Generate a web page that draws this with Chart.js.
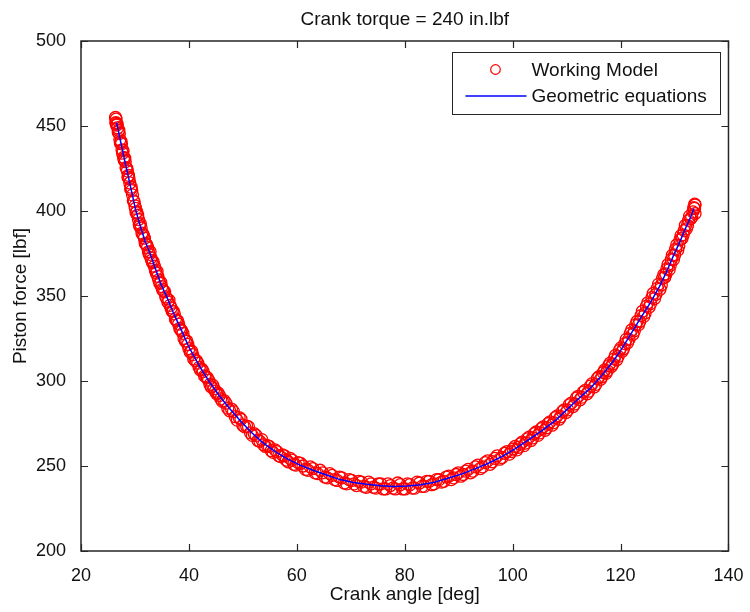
<!DOCTYPE html>
<html>
<head>
<meta charset="utf-8">
<script src="https://cdn.jsdelivr.net/npm/chart.js@4/dist/chart.umd.min.js"></script>
<style>
html,body{margin:0;padding:0;background:#fff;}
#wrap{width:750px;height:612px;}
</style>
</head>
<body>
<div id="wrap"><canvas id="c" width="750" height="612"></canvas></div>
<script>
// ---- text ----
const titleText = 'Crank torque = 240 in.lbf';
const xAxisLabel = 'Crank angle [deg]';
const yAxisLabel = 'Piston force [lbf]';
const seriesNames = ['Working Model', 'Geometric equations'];

// ---- ticks ----
const xTickValues = [20, 40, 60, 80, 100, 120, 140];
const yTickValues = [200, 250, 300, 350, 400, 450, 500];

// ---- series 1: Working Model (circles) ----
const wmAngle = [
  26.4, 26.5, 26.6, 26.8, 27.0, 27.2, 27.4, 27.6, 27.8, 28.0, 28.2, 28.5, 28.7, 28.9, 29.2, 29.4, 29.7, 30.0, 30.2, 30.5,
  30.8, 31.0, 31.3, 31.6, 31.9, 32.2, 32.5, 32.8, 33.1, 33.4, 33.8, 34.1, 34.4, 34.8, 35.1, 35.5, 35.9,
  36.3, 36.7, 37.1, 37.5, 37.9, 38.3, 38.7, 39.1, 39.6, 40.0, 40.5, 40.9, 41.4, 41.9, 42.4, 42.9, 43.4, 43.9, 44.4, 44.9, 45.4, 45.9,
  46.5, 47.2, 47.9, 48.6, 49.3, 50.0, 50.7, 51.4, 52.1, 52.8, 53.5, 54.2, 54.9, 55.6, 56.3, 57.0, 57.7, 58.4, 59.1, 59.8,
  60.7, 61.6, 62.5, 63.4, 64.3, 65.2, 66.1, 67.0, 67.9, 68.8, 69.7, 70.6, 71.5, 72.4, 73.3, 74.2, 75.1, 76.0, 76.9, 77.8,
  78.7, 79.6, 80.5, 81.4, 82.3, 83.2, 84.1, 85.0, 85.9, 86.8, 87.7, 88.6, 89.5, 90.4, 91.3, 92.2, 93.1, 94.0, 94.9, 95.8,
  96.7, 97.6, 98.5, 99.4,
  100.1, 100.8, 101.4, 102.1, 102.7, 103.4, 104.0, 104.7, 105.3, 106.0, 106.6, 107.3, 107.9, 108.6, 109.2, 109.9, 110.5,
  111.2, 111.8, 112.5, 113.1, 113.8, 114.4, 115.1, 115.7,
  116.3, 116.8, 117.3, 117.8, 118.3, 118.8, 119.3, 119.8, 120.3, 120.8, 121.3, 121.8, 122.3, 122.8, 123.3, 123.8, 124.3,
  124.8, 125.3, 125.8, 126.3, 126.8, 127.3, 127.8, 128.2, 128.6, 129.0, 129.4, 129.8, 130.2, 130.6, 131.0, 131.4, 131.8,
  132.2, 132.6, 133.0, 133.4, 133.7, 133.8, 133.8,
  26.45, 26.55, 26.7, 26.9, 27.1, 27.3, 27.5, 27.7, 27.9, 28.1, 28.35, 28.6, 28.8, 29.05, 29.3, 29.55, 29.85, 30.1, 30.35,
  30.65, 30.9, 31.15, 31.45, 31.75, 32.05, 32.35, 32.65, 32.95, 33.25, 33.6, 33.95, 34.25, 34.6, 34.95, 35.3, 35.7,
  36.1, 36.5, 36.9, 37.3, 37.7, 38.1, 38.5, 38.9, 39.35, 39.8, 40.25, 40.7, 41.15, 41.65, 42.15, 42.65, 43.15, 43.65,
  44.15, 44.65, 45.15, 45.65, 46.2,
  46.85, 47.55, 48.25, 48.95, 49.65, 50.35, 51.05, 51.75, 52.45, 53.15, 53.85, 54.55, 55.25, 55.95, 56.65, 57.35,
  58.05, 58.75, 59.45, 60.25,
  61.15, 62.05, 62.95, 63.85, 64.75, 65.65, 66.55, 67.45, 68.35, 69.25, 70.15, 71.05, 71.95, 72.85, 73.75, 74.65,
  75.55, 76.45, 77.35, 78.25, 79.15, 80.05, 80.95, 81.85, 82.75, 83.65, 84.55, 85.45, 86.35, 87.25, 88.15, 89.05,
  89.95, 90.85, 91.75, 92.65, 93.55, 94.45, 95.35, 96.25, 97.15, 98.05, 98.95, 99.75,
  100.45, 101.1, 101.75, 102.4, 103.05, 103.7, 104.35, 105.0, 105.65, 106.3, 106.95, 107.6, 108.25, 108.9, 109.55,
  110.2, 110.85, 111.5, 112.15, 112.8, 113.45, 114.1, 114.75, 115.4, 116.0,
  116.55, 117.05, 117.55, 118.05, 118.55, 119.05, 119.55, 120.05, 120.55, 121.05, 121.55, 122.05, 122.55, 123.05,
  123.55, 124.05, 124.55, 125.05, 125.55, 126.05, 126.55, 127.05, 127.55, 128.0, 128.4, 128.8, 129.2, 129.6, 130.0,
  130.4, 130.8, 131.2, 131.6, 132.0, 132.4, 132.8, 133.2, 133.55, 133.75
];
const wmForce = [
  455, 454, 450.5, 449, 447.5, 442, 441, 436, 435.5, 430, 429, 425, 420, 419, 413, 412, 406, 403, 399, 397.5,
  392, 392.5, 387, 385.5, 381, 380, 376, 376, 371, 370, 365, 364.5, 359.5, 358, 354, 352.5, 348.5,
  347.5, 343, 341, 336.5, 335.5, 331, 329.5, 325, 323.5, 319, 317.5, 313, 312, 308, 307, 303, 302, 298, 297.5, 294, 293, 289.5,
  288.5, 284, 283.5, 279, 278.5, 274, 273.5, 269.5, 269, 265, 265.5, 261.5, 261.5, 258, 258.5, 255.5, 256, 252.5, 253.5, 250.5,
  251.5, 248, 249.5, 246, 247.5, 243.5, 245.5, 242, 243.5, 240, 242, 239.5, 241, 238, 240.5, 237.5, 239.5, 236.5, 239.5, 237,
  240, 236.5, 239.5, 237, 240.5, 238, 241, 239, 242, 240.5, 243.5, 242, 245, 244, 247, 246, 249.5, 248.5, 252, 251,
  254.5, 254, 257.5, 257,
  260, 259.5, 263, 262, 266, 265, 269, 268, 272, 271, 275, 274, 278.5, 277.5, 282, 281.5, 286,
  285, 290, 289, 293.5, 292.5, 297, 296.5, 301.5,
  301, 305, 304.5, 309, 308.5, 313, 312.5, 318, 317.5, 322, 322.5, 328, 327.5, 333, 333, 338.5, 338,
  344, 343.5, 349, 348.5, 354.5, 354, 360.5, 361, 366, 365.5, 371.5, 371.5, 377.5, 377, 383, 384, 388.5,
  389.5, 394.5, 395.5, 399.5, 401.5, 403.5, 398.5,
  452, 451.5, 451, 446.5, 445.5, 440, 439.5, 434, 431.5, 431, 425.5, 423.5, 421, 416.5, 414, 409.5, 405.5, 401.5, 399.5,
  395, 391, 390, 386.5, 384, 380.5, 378.5, 374.5, 372.5, 369.5, 367.5, 363.5, 361.5, 357.5, 355.5, 353, 349.5,
  346.5, 344.5, 341, 339.5, 335.5, 333.5, 330, 328, 323.5, 321.5, 317, 315.5, 312, 310.5, 306.5, 305.5, 302.5, 300.5,
  296.5, 295.5, 292.5, 291.5, 288,
  287, 282.5, 282, 277, 277.5, 273, 273, 268, 268, 264.5, 262.5, 262, 259, 259.5, 256, 256.5,
  253.5, 254.5, 251, 252,
  250, 247.5, 248.5, 245.5, 246, 243, 244.5, 241.5, 243, 239.5, 241.5, 238.5, 240.5, 237.5, 239.5, 237,
  239.5, 236.5, 238.5, 236.5, 239, 236.5, 239, 237, 240, 238, 241, 239.5, 242, 241, 244, 243,
  246, 245, 248, 247, 250.5, 249.5, 253, 252.5, 256, 255, 258.5, 258.5,
  261.5, 261, 264, 263.5, 267, 266.5, 270, 269.5, 273, 272.5, 276, 275.5, 279.5, 279, 283,
  283, 287, 286.5, 291, 290.5, 294.5, 294, 298.5, 298, 302.5,
  302.5, 306.5, 306, 310.5, 310, 315, 314.5, 319.5, 319, 324.5, 324.5, 330, 329.5, 335,
  335, 341, 340, 346, 345.5, 351.5, 351, 357, 356.5, 362.5, 363, 368.5, 368, 374, 374,
  380, 379.5, 385.5, 386, 391.5, 391.5, 397, 396.5, 402, 404
];

// ---- series 2: Geometric equations (line) ----
const geoAngle = [
  26.6, 27.2, 27.8, 28.5, 29.2, 30.1, 31.0, 31.9, 32.8, 33.8, 34.8, 35.9, 37.0, 38.3, 40.0, 42.0, 44.0, 45.7, 47.5, 49.4,
  51.5, 53.8, 56.0, 58.3, 60.6, 63.0, 65.5, 68.0, 70.5, 73.0, 75.5, 78.0, 80.5, 83.0, 85.5, 88.0, 90.5, 93.0, 95.5, 98.0,
  100.5, 103.0, 105.5, 108.0, 110.0, 112.0, 114.3, 116.2, 118.6, 119.8, 121.5, 123.5, 125.5, 127.2, 128.5, 129.7, 131.0,
  132.2, 133.0, 133.6
];
const geoForce = [
  452, 443, 434, 424, 414, 401, 391, 382, 375, 366, 357, 349.5, 341, 332, 320, 308.5, 298.5, 291, 284, 277,
  270, 263.5, 258.5, 254, 250.5, 247.5, 244.7, 242, 240.3, 239.2, 238.4, 238, 238.2, 239, 240.5, 242.8, 245.2, 248.3, 251.6, 255.5,
  260.2, 265.5, 271, 277, 283, 289, 295.5, 302, 311.5, 317, 325.5, 336, 346, 355.5, 364, 373, 382,
  391, 396.5, 401.5
];

// ---- style constants ----
const FONT_FAMILY = '"Liberation Sans", Arial, Helvetica, sans-serif';
const AXIS_COLOR = '#262626';
const TEXT_COLOR = '#111111';
const WM_COLOR = '#ff0000';
const GEO_COLOR = '#0000ff';

const toXY = (xs, ys) => xs.map((x, i) => ({x: x, y: ys[i]}));

const frameAndLegend = {
  id: 'frameAndLegend',
  afterDatasetsDraw(chart) {
    const {ctx, chartArea: a, scales: {x, y}} = chart;
    ctx.save();
    ctx.strokeStyle = AXIS_COLOR;
    ctx.lineWidth = 1.5;
    ctx.strokeRect(a.left, a.top, a.right - a.left, a.bottom - a.top);
    const tl = 7;
    ctx.lineWidth = 1.2;
    ctx.beginPath();
    xTickValues.forEach(v => {
      const px = Math.round(x.getPixelForValue(v)) + 0.5;
      ctx.moveTo(px, a.bottom); ctx.lineTo(px, a.bottom - tl);
      ctx.moveTo(px, a.top); ctx.lineTo(px, a.top + tl);
    });
    yTickValues.forEach(v => {
      const py = Math.round(y.getPixelForValue(v)) + 0.5;
      ctx.moveTo(a.left, py); ctx.lineTo(a.left + tl, py);
      ctx.moveTo(a.right, py); ctx.lineTo(a.right - tl, py);
    });
    ctx.stroke();
    ctx.restore();
  },
  afterDraw(chart) {
    const {ctx, chartArea: a} = chart;
    const bw = 268, bh = 62;
    const bx = a.right - 8 - bw, by = a.top + 11;
    ctx.save();
    ctx.fillStyle = '#ffffff';
    ctx.fillRect(bx, by, bw, bh);
    ctx.strokeStyle = AXIS_COLOR;
    ctx.lineWidth = 1;
    ctx.strokeRect(Math.round(bx) + 0.5, Math.round(by) + 0.5, bw, bh);
    ctx.strokeStyle = WM_COLOR;
    ctx.lineWidth = 1.2;
    ctx.beginPath();
    ctx.arc(bx + 43, by + 17.5, 4.8, 0, Math.PI * 2);
    ctx.stroke();
    ctx.strokeStyle = GEO_COLOR;
    ctx.lineWidth = 1.5;
    ctx.beginPath();
    ctx.moveTo(bx + 13, by + 44);
    ctx.lineTo(bx + 74, by + 44);
    ctx.stroke();
    ctx.fillStyle = TEXT_COLOR;
    ctx.font = '19px ' + FONT_FAMILY;
    ctx.textAlign = 'left';
    ctx.textBaseline = 'middle';
    ctx.fillText(seriesNames[0], bx + 79, by + 18.5);
    ctx.fillText(seriesNames[1], bx + 79, by + 44.5);
    ctx.restore();
  }
};

new Chart(document.getElementById('c'), {
  type: 'scatter',
  data: {
    datasets: [
      {
        label: seriesNames[0],
        data: toXY(wmAngle, wmForce),
        showLine: false,
        pointStyle: 'circle',
        pointRadius: 6,
        pointBorderWidth: 1.3,
        pointBorderColor: WM_COLOR,
        pointBackgroundColor: 'rgba(0,0,0,0)',
        order: 2
      },
      {
        label: seriesNames[1],
        data: toXY(geoAngle, geoForce),
        showLine: true,
        pointRadius: 0,
        borderColor: GEO_COLOR,
        borderWidth: 1.5,
        tension: 0,
        fill: false,
        order: 1
      }
    ]
  },
  options: {
    responsive: false,
    devicePixelRatio: 1,
    animation: false,
    events: [],
    layout: {padding: {left: 0, right: 21, top: 0, bottom: 0}},
    plugins: {
      legend: {display: false},
      tooltip: {enabled: false},
      title: {
        display: true,
        text: titleText,
        fullSize: false,
        color: TEXT_COLOR,
        font: {family: FONT_FAMILY, size: 19, weight: 'normal', lineHeight: 1.2},
        padding: {top: 8.4, bottom: 9.8}
      }
    },
    scales: {
      x: {
        type: 'linear',
        position: 'bottom',
        min: 20, max: 140,
        afterBuildTicks: s => { s.ticks = xTickValues.map(v => ({value: v})); },
        afterFit: s => { s.height = 61; },
        grid: {display: false},
        border: {display: false},
        ticks: {
          color: TEXT_COLOR,
          font: {family: FONT_FAMILY, size: 18, lineHeight: 1.2},
          padding: 6.5,
          maxRotation: 0,
          autoSkip: false
        },
        title: {
          display: true,
          text: xAxisLabel,
          color: TEXT_COLOR,
          font: {family: FONT_FAMILY, size: 19, lineHeight: 1.2},
          padding: {top: 0, bottom: 6.1}
        }
      },
      y: {
        type: 'linear',
        position: 'left',
        min: 200, max: 500,
        afterBuildTicks: s => { s.ticks = yTickValues.map(v => ({value: v})); },
        afterFit: s => { s.width = 81; },
        grid: {display: false},
        border: {display: false},
        ticks: {
          color: TEXT_COLOR,
          font: {family: FONT_FAMILY, size: 18, lineHeight: 1.2},
          padding: 7,
          autoSkip: false
        },
        title: {
          display: true,
          text: yAxisLabel,
          color: TEXT_COLOR,
          font: {family: FONT_FAMILY, size: 19, lineHeight: 1.2},
          padding: {top: 9.1, bottom: 0}
        }
      }
    }
  },
  plugins: [frameAndLegend]
});
</script>
</body>
</html>
